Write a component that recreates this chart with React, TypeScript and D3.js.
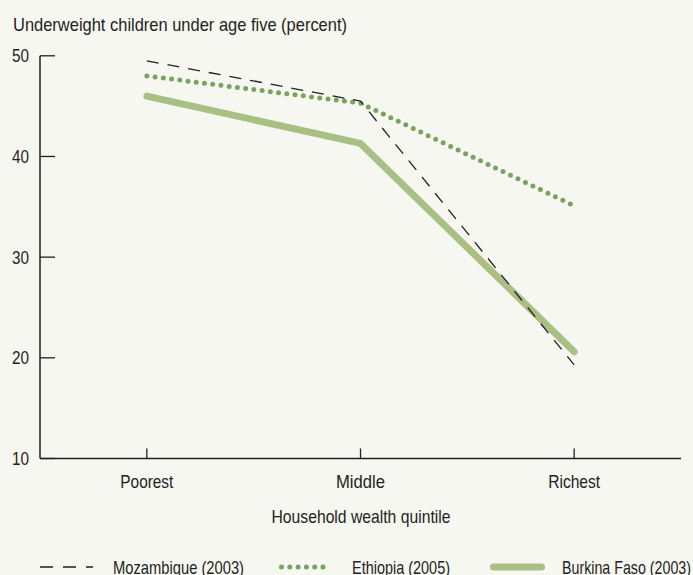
import React from 'react';
import * as d3 from 'd3';

const quintiles = ['Poorest', 'Middle', 'Richest'];
const mozambique = [49.5, 45.5, 19.3];
const ethiopia = [48.0, 45.3, 35.1];
const burkinaFaso = [46.0, 41.3, 20.6];
const yTicks = [10, 20, 30, 40, 50];

const W = 693;
const H = 575;
const FONT = '"Liberation Sans", Arial, sans-serif';
const INK = '#231f20';

// widths (condensed face), used to squeeze the text
const quintileWidths = [53, 49, 52];

const series = [
    {name: 'Mozambique (2003)', values: mozambique, color: INK, width: 1.3, dash: '12 9', cap: 'butt', textW: 131},
    {name: 'Ethiopia (2005)', values: ethiopia, color: '#7ba25e', width: 5, dash: '0 8.3', cap: 'round', textW: 98},
    {name: 'Burkina Faso (2003)', values: burkinaFaso, color: '#a9c084', width: 7, dash: undefined, cap: 'round', textW: 129},
];

// legend sample positions [x0, x1, textX]
const legendPos = [[40, 93, 113], [279, 332, 352], [490, 545, 562]];

const App: React.FC = () => {
    const x = d3.scalePoint<string>().domain(quintiles).range([40, 681]).padding(0.5);
    const y = d3.scaleLinear().domain([10, 50]).range([458.5, 55.8]);

    const line = d3.line<number>()
        .x((_, i) => x(quintiles[i]) as number)
        .y(d => y(d));

    return (
        <svg width={W} height={H} style={{position: 'absolute', left: 0, top: 0}} fontFamily={FONT}>
            <rect width={W} height={H} fill="#f7f7f2"/>

            <text x={13} y={31} fontSize={18.5} fill={INK} textLength={334} lengthAdjust="spacingAndGlyphs">
                Underweight children under age five (percent)
            </text>

            {/* y axis */}
            <line x1={40} x2={40} y1={y(50)} y2={y(10)} stroke={INK} strokeWidth={1.5}/>
            {yTicks.map(t => (
                <g key={t}>
                    <line x1={40} x2={55} y1={y(t)} y2={y(t)} stroke={INK} strokeWidth={1.3}/>
                    <text x={12} y={y(t)} dy="0.35em" fontSize={19} fill={INK}
                          textLength={17} lengthAdjust="spacingAndGlyphs">{t}</text>
                </g>
            ))}

            {/* x axis */}
            <line x1={40} x2={681} y1={y(10)} y2={y(10)} stroke={INK} strokeWidth={1.5}/>
            {quintiles.map((q, i) => (
                <g key={q}>
                    <line x1={x(q)} x2={x(q)} y1={y(10)} y2={y(10) - 10} stroke={INK} strokeWidth={1.3}/>
                    <text x={(x(q) as number) - quintileWidths[i] / 2} y={488} fontSize={19} fill={INK}
                          textLength={quintileWidths[i]} lengthAdjust="spacingAndGlyphs">{q}</text>
                </g>
            ))}
            <text x={(x('Middle') as number) - 89} y={523} fontSize={19} fill={INK}
                  textLength={179} lengthAdjust="spacingAndGlyphs">Household wealth quintile</text>

            {/* lines, drawn back to front */}
            {[2, 1, 0].map(i => {
                const s = series[i];
                return (
                    <path key={s.name} d={line(s.values) || ''} fill="none" stroke={s.color}
                          strokeWidth={s.width} strokeDasharray={s.dash} strokeLinecap={s.cap as any}
                          strokeLinejoin="round"/>
                );
            })}

            {/* legend */}
            {series.map((s, i) => {
                const [x0, x1, tx] = legendPos[i];
                const inset = s.cap === 'round' ? s.width / 2 : 0;
                return (
                    <g key={s.name}>
                        <line x1={x0 + inset} x2={x1 - inset} y1={567} y2={567} stroke={s.color}
                              strokeWidth={s.width} strokeDasharray={i === 0 ? '13 10' : s.dash}
                              strokeLinecap={s.cap as any}/>
                        <text x={tx} y={574} fontSize={19} fill={INK}
                              textLength={s.textW} lengthAdjust="spacingAndGlyphs">{s.name}</text>
                    </g>
                );
            })}
        </svg>
    );
};

export default App;
